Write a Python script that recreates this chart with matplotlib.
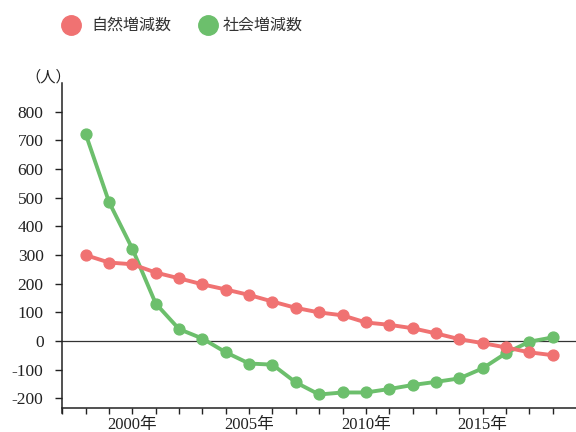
import matplotlib
matplotlib.use("Agg")
import matplotlib.pyplot as plt
from matplotlib.lines import Line2D

# Population change by year (persons)
years = list(range(1998, 2019))
natural_change = [300, 274, 268, 239, 219, 198, 180, 161, 138, 116, 100,
                  90, 65, 57, 45, 27, 7, -7, -22, -39, -49]
social_change = [722, 485, 322, 131, 42, 9, -39, -78, -82, -144, -186,
                 -179, -179, -167, -153, -142, -130, -95, -42, -2, 13]

series_labels = ["自然増減数", "社会増減数"]
y_ticks = [-200, -100, 0, 100, 200, 300, 400, 500, 600, 700, 800]
x_label_years = [2000, 2005, 2010, 2015]

red = "#f07272"
green = "#6cbf6c"

serif = ["Liberation Serif", "Noto Sans CJK JP"]
gothic = ["Noto Sans CJK JP", "DejaVu Sans"]

fig = plt.figure(figsize=(5.76, 4.32), dpi=100)
ax = fig.add_axes([0.1082, 0.0563, 0.8918, 0.7516])

ax.axhline(0, color="#333333", lw=0.9, zorder=1)
ax.plot(years, natural_change, color=red, lw=2.8, marker="o", ms=7.8,
        mec=red, mfc=red, zorder=3)
ax.plot(years, social_change, color=green, lw=2.8, marker="o", ms=7.8,
        mec=green, mfc=green, zorder=2)

ax.set_xlim(1997, 2019)
ax.set_ylim(-232, 900)

for s in ("top", "right"):
    ax.spines[s].set_visible(False)
ax.spines["left"].set_bounds(-252, 900)
for s in ("left", "bottom"):
    ax.spines[s].set_color("#222222")
    ax.spines[s].set_linewidth(1.1)

ax.set_yticks(y_ticks)
ax.set_yticklabels([str(v) for v in y_ticks], family=serif, fontsize=12.5,
                   color="#222222")
ax.set_xticks(list(range(1997, 2019)))
ax.set_xticklabels([f"{y}年" if y in x_label_years else "" for y in range(1997, 2019)],
                   family=serif, fontsize=12, color="#222222")
ax.tick_params(axis="y", direction="out", length=5, width=1.0, pad=8.5,
               color="#222222")
ax.tick_params(axis="x", direction="out", length=4.5, width=1.0, pad=2.5,
               color="#222222")

fig.text(48 / 576, 1 - 77 / 432, "（人）", family=gothic, fontsize=11,
         ha="center", va="center", color="#222222")

# Legend row
for cx, tx, col, lab in [(71, 91, red, series_labels[0]),
                         (208, 223, green, series_labels[1])]:
    fig.add_artist(Line2D([cx / 576], [1 - 25 / 432], transform=fig.transFigure,
                          marker="o", ms=14, mfc=col, mec=col, ls="none"))
    fig.text(tx / 576, 1 - 25 / 432, lab, family=gothic, fontsize=11.5,
             ha="left", va="center", color="#333333")

fig.savefig("out.png", dpi=100)
